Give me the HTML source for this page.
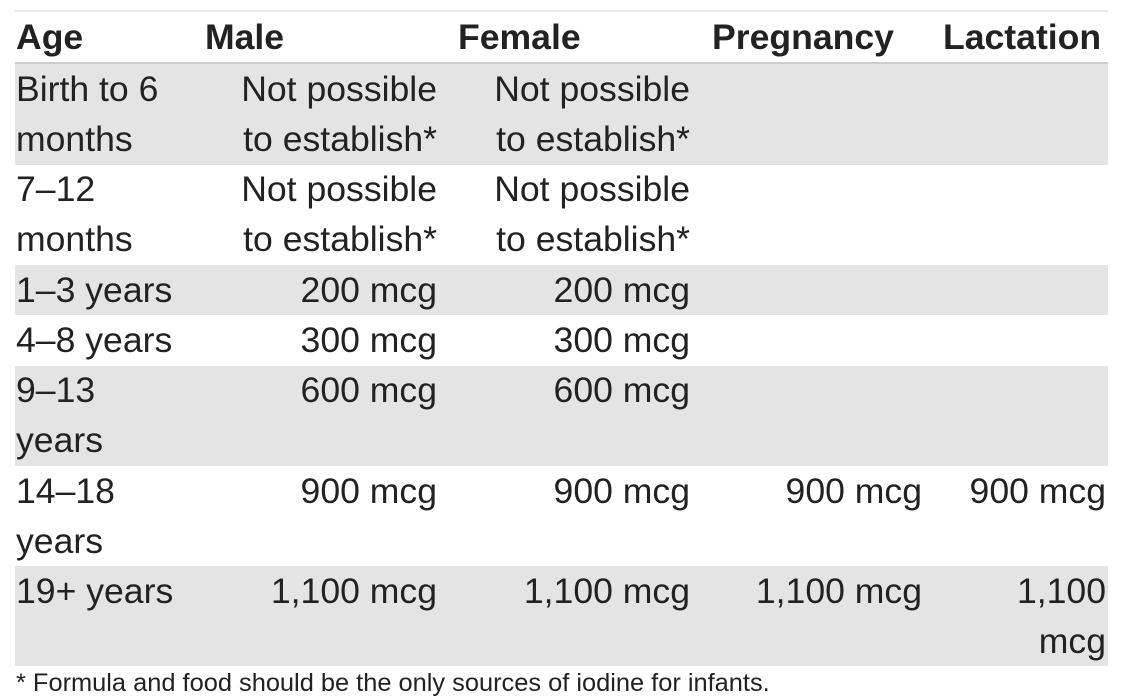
<!DOCTYPE html>
<html><head><meta charset="utf-8"><style>
body{margin:0;width:1122px;height:698px;background:#fff;font-family:"Liberation Sans",Arial,sans-serif;color:#222;position:relative;overflow:hidden}
.t{position:absolute;font-size:35.6px;line-height:50px;white-space:nowrap}
.h{font-weight:bold}
.r{text-align:right}
.bg{position:absolute;left:15px;width:1093px;background:#e4e4e4}
.line{position:absolute;left:15px;width:1093px}
</style></head><body>
<div class="line" style="top:10px;height:2px;background:#e8e8e8"></div>
<div class="line" style="top:62px;height:2px;background:#ccc"></div>
<div class="bg" style="top:64px;height:101px"></div>
<div class="bg" style="top:265px;height:50px"></div>
<div class="bg" style="top:366px;height:100px"></div>
<div class="bg" style="top:566px;height:100px"></div>

<div class="t h" style="left:16px;top:12px">Age</div>
<div class="t h" style="left:205px;top:12px">Male</div>
<div class="t h" style="left:458px;top:12px">Female</div>
<div class="t h" style="left:712px;top:12px">Pregnancy</div>
<div class="t h" style="left:943px;top:12px">Lactation</div>

<div class="t" style="left:16px;top:64px">Birth to 6<br>months</div>
<div class="t r" style="right:685px;top:64px">Not possible<br>to establish*</div>
<div class="t r" style="right:432px;top:64px">Not possible<br>to establish*</div>

<div class="t" style="left:16px;top:164px">7–12<br>months</div>
<div class="t r" style="right:685px;top:164px">Not possible<br>to establish*</div>
<div class="t r" style="right:432px;top:164px">Not possible<br>to establish*</div>

<div class="t" style="left:16px;top:265px">1–3 years</div>
<div class="t r" style="right:685px;top:265px">200 mcg</div>
<div class="t r" style="right:432px;top:265px">200 mcg</div>

<div class="t" style="left:16px;top:315px">4–8 years</div>
<div class="t r" style="right:685px;top:315px">300 mcg</div>
<div class="t r" style="right:432px;top:315px">300 mcg</div>

<div class="t" style="left:16px;top:365px">9–13<br>years</div>
<div class="t r" style="right:685px;top:365px">600 mcg</div>
<div class="t r" style="right:432px;top:365px">600 mcg</div>

<div class="t" style="left:16px;top:466px">14–18<br>years</div>
<div class="t r" style="right:685px;top:466px">900 mcg</div>
<div class="t r" style="right:432px;top:466px">900 mcg</div>
<div class="t r" style="right:200px;top:466px">900 mcg</div>
<div class="t r" style="right:16px;top:466px">900 mcg</div>

<div class="t" style="left:16px;top:566px">19+ years</div>
<div class="t r" style="right:685px;top:566px">1,100 mcg</div>
<div class="t r" style="right:432px;top:566px">1,100 mcg</div>
<div class="t r" style="right:200px;top:566px">1,100 mcg</div>
<div class="t r" style="right:16px;top:566px">1,100<br>mcg</div>

<div class="t" style="left:16px;top:669px;font-size:25.4px;line-height:28px">* Formula and food should be the only sources of iodine for infants.</div>
</body></html>
